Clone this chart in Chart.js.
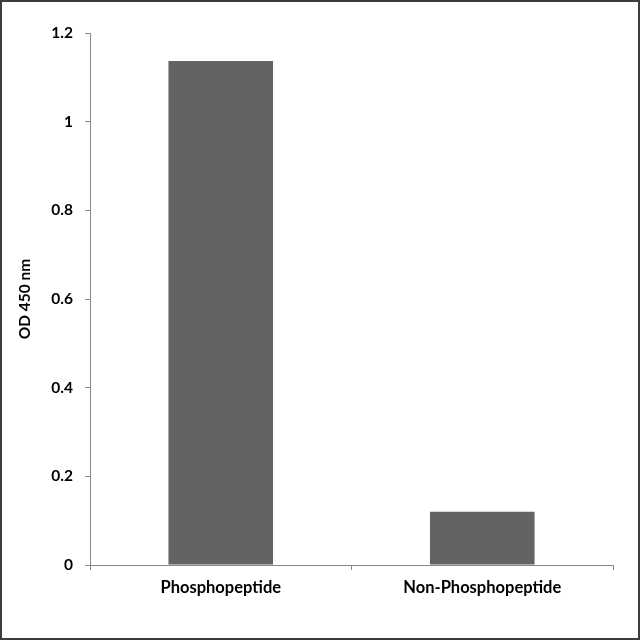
<!DOCTYPE html>
<html>
<head>
<meta charset="utf-8">
<script src="https://cdn.jsdelivr.net/npm/chart.js@4"></script>
<style>
html,body{margin:0;padding:0;background:#fff;}
#wrap{width:640px;height:640px;position:relative;}
</style>
</head>
<body>
<div id="wrap"><canvas id="c" width="640" height="640"></canvas></div>
<script>
const categories = ["Phosphopeptide", "Non-Phosphopeptide"];
const odValues = [1.137, 0.120];
const yTicks = [0, 0.2, 0.4, 0.6, 0.8, 1, 1.2];
const yTitle = "OD 450 nm";

const FONT = "Lato, 'Open Sans', sans-serif";

const frame = {
  id: 'frame',
  afterDraw(chart) {
    const ctx = chart.ctx;
    ctx.save();
    ctx.strokeStyle = '#3c3c3c';
    ctx.lineWidth = 2;
    ctx.strokeRect(1, 1, 638, 638);
    ctx.restore();
  }
};

new Chart(document.getElementById('c'), {
  type: 'bar',
  data: {
    labels: categories,
    datasets: [{
      data: odValues,
      backgroundColor: '#636363',
      borderWidth: 0,
      categoryPercentage: 1.0,
      barPercentage: 0.4
    }]
  },
  options: {
    responsive: false,
    animation: false,
    devicePixelRatio: 1,
    layout: { padding: { top: 33, right: 27, left: 0, bottom: 0 } },
    plugins: { legend: { display: false }, tooltip: { enabled: false } },
    scales: {
      x: {
        grid: { display: true, drawOnChartArea: false, drawTicks: true, tickLength: 5, color: '#888', offset: true },
        border: { display: true, color: '#888', width: 1 },
        ticks: { color: '#000', font: { family: FONT, weight: 'bold', size: 16.5 }, padding: 8, maxRotation: 0 },
        afterFit(s) { s.height = 75; }
      },
      y: {
        min: 0, max: 1.2,
        afterBuildTicks(s) { s.ticks = yTicks.map(v => ({ value: v })); },
        grid: { display: true, drawOnChartArea: false, drawTicks: true, tickLength: 5, color: '#888' },
        border: { display: true, color: '#888', width: 1 },
        ticks: {
          color: '#000', font: { family: FONT, weight: 'bold', size: 15.5 }, padding: 12,
          callback: v => String(Number(v.toFixed(1)))
        },
        title: { display: true, text: yTitle, color: '#000', font: { family: FONT, weight: 'bold', size: 15.5 }, padding: { top: 16, bottom: 0 } },
        afterFit(s) { s.width = 90; }
      }
    }
  },
  plugins: [frame]
});
</script>
</body>
</html>
